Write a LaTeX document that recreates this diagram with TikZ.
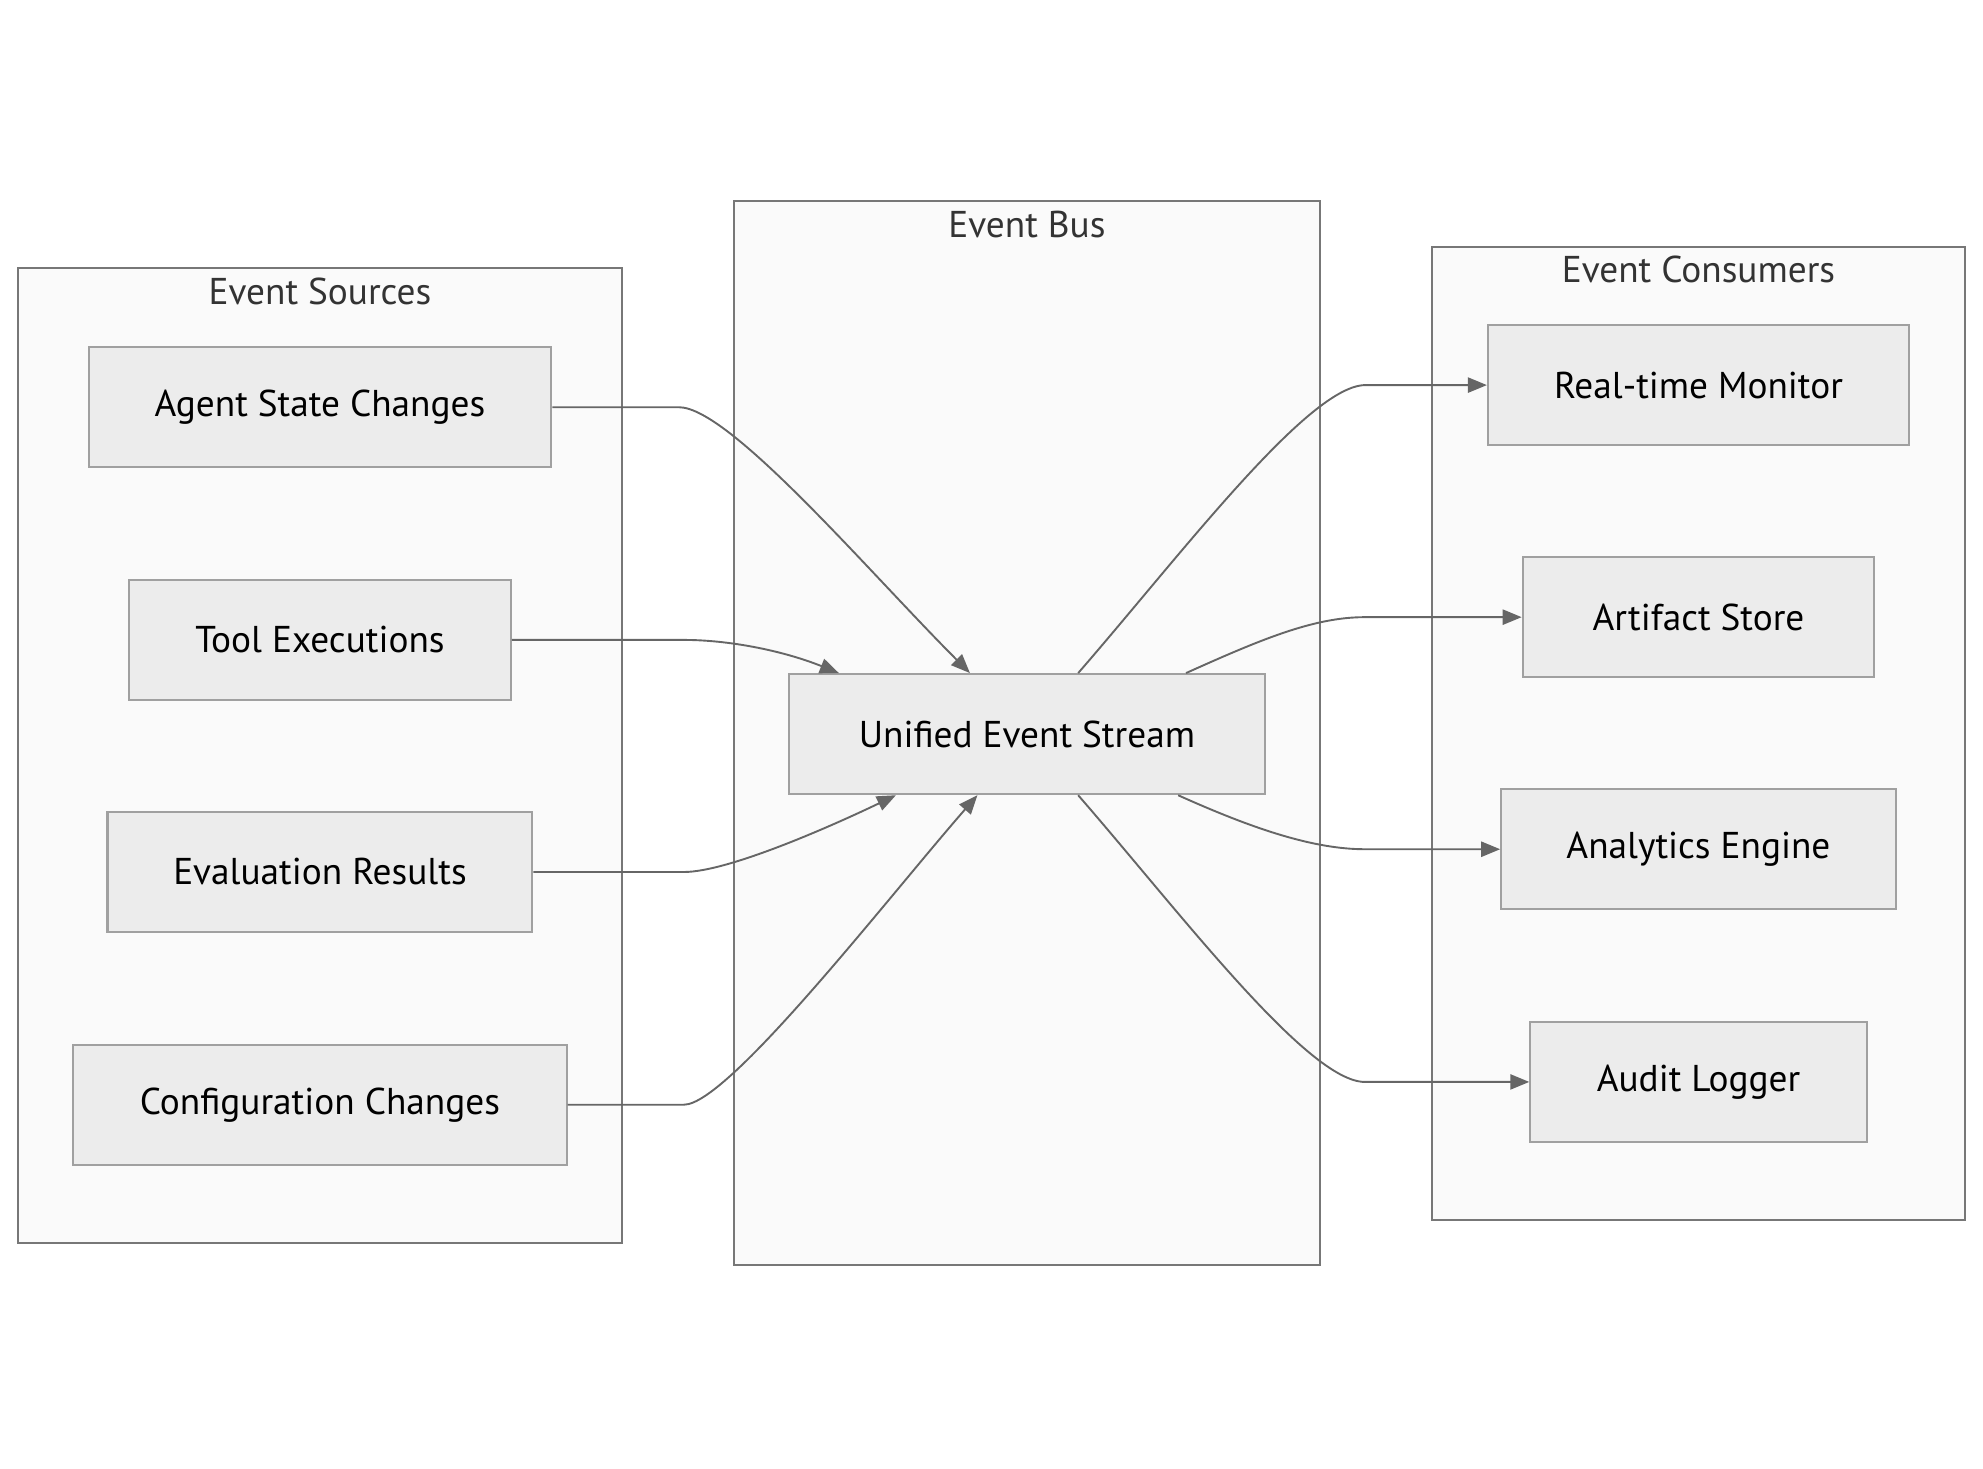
\documentclass[tikz,border=0pt]{standalone}
\usepackage{fontspec}
\setmainfont{PT Sans}
\usepackage{tikz}
\usetikzlibrary{calc,positioning,arrows.meta}
\definecolor{nodefill}{HTML}{ECECEC}
\definecolor{nodeline}{HTML}{A0A0A0}
\definecolor{grpfill}{HTML}{FAFAFA}
\definecolor{grpline}{HTML}{777777}
\definecolor{edgeline}{HTML}{666666}
\definecolor{titletext}{HTML}{333333}
\begin{document}
\begin{tikzpicture}[x=1pt,y=-1pt,
    box/.style={draw=nodeline,fill=nodefill,line width=1.6pt,minimum height=95pt,
      inner sep=0pt,font=\fontsize{29.5}{34}\selectfont},
    grp/.style={draw=grpline,fill=grpfill,line width=1.6pt,inner sep=0pt},
    grptitle/.style={text=titletext,font=\fontsize{29.5}{34}\selectfont,anchor=north},
    flow/.style={draw=edgeline,line width=1.5pt,-{Triangle[length=15pt,width=12pt]}}]
 \useasboundingbox (0,0) rectangle (1568,1161);
 % groups
 \node[grp,minimum width=478pt,minimum height=771pt] (src) at (253,597.5) {};
 \node[grp,minimum width=464pt,minimum height=841pt] (bus) at (812,579.5) {};
 \node[grp,minimum width=422pt,minimum height=770pt] (dst) at (1343,580) {};
 \node[grptitle,below=5pt of src.north] {Event Sources};
 \node[grptitle,below=5pt of bus.north] {Event Bus};
 \node[grptitle,below=5pt of dst.north] {Event Consumers};
 % sources
 \node[box,minimum width=366pt] (agent) at (253,322) {Agent State Changes};
 \node[box,minimum width=302pt] (tool) at (253,506) {Tool Executions};
 \node[box,minimum width=336pt] (eval) at (253,689.5) {Evaluation Results};
 \node[box,minimum width=390pt] (config) at (253,873.5) {Configuration Changes};
 % bus
 \node[box,minimum width=376pt] (stream) at (812,580.5) {Unified Event Stream};
 % consumers
 \node[box,minimum width=333pt] (monitor) at (1343,304.5) {Real-time Monitor};
 \node[box,minimum width=278pt] (artifact) at (1343,488) {Artifact Store};
 \node[box,minimum width=312pt] (analytics) at (1343,671.5) {Analytics Engine};
 \node[box,minimum width=266pt] (audit) at (1343,855.5) {Audit Logger};
 % edges in
 \draw[flow] (agent.east) -- ++(100,0) .. controls +(40,0) and +(-80,-80) .. (stream.133);
 \draw[flow] (tool.east) -- ++(136,0) .. controls +(35,0) and +(-45,-18) .. (stream.162);
 \draw[flow] (eval.east) -- ++(119,0) .. controls +(35,0) and +(-50,24) .. (stream.205);
 \draw[flow] (config.east) -- ++(92,0) .. controls +(35,0) and +(-70,80) .. (stream.231);
 % edges out
 \draw[flow] (stream.50) .. controls +(80,-92) and +(-45,0) .. ($(monitor.west)+(-96,0)$) -- (monitor.west);
 \draw[flow] (stream.21) .. controls +(60,-27) and +(-40,0) .. ($(artifact.west)+(-124,0)$) -- (artifact.west);
 \draw[flow] (stream.-22) .. controls +(60,27) and +(-40,0) .. ($(analytics.west)+(-107,0)$) -- (analytics.west);
 \draw[flow] (stream.-50) .. controls +(80,92) and +(-45,0) .. ($(audit.west)+(-130,0)$) -- (audit.west);
\end{tikzpicture}
\end{document}
